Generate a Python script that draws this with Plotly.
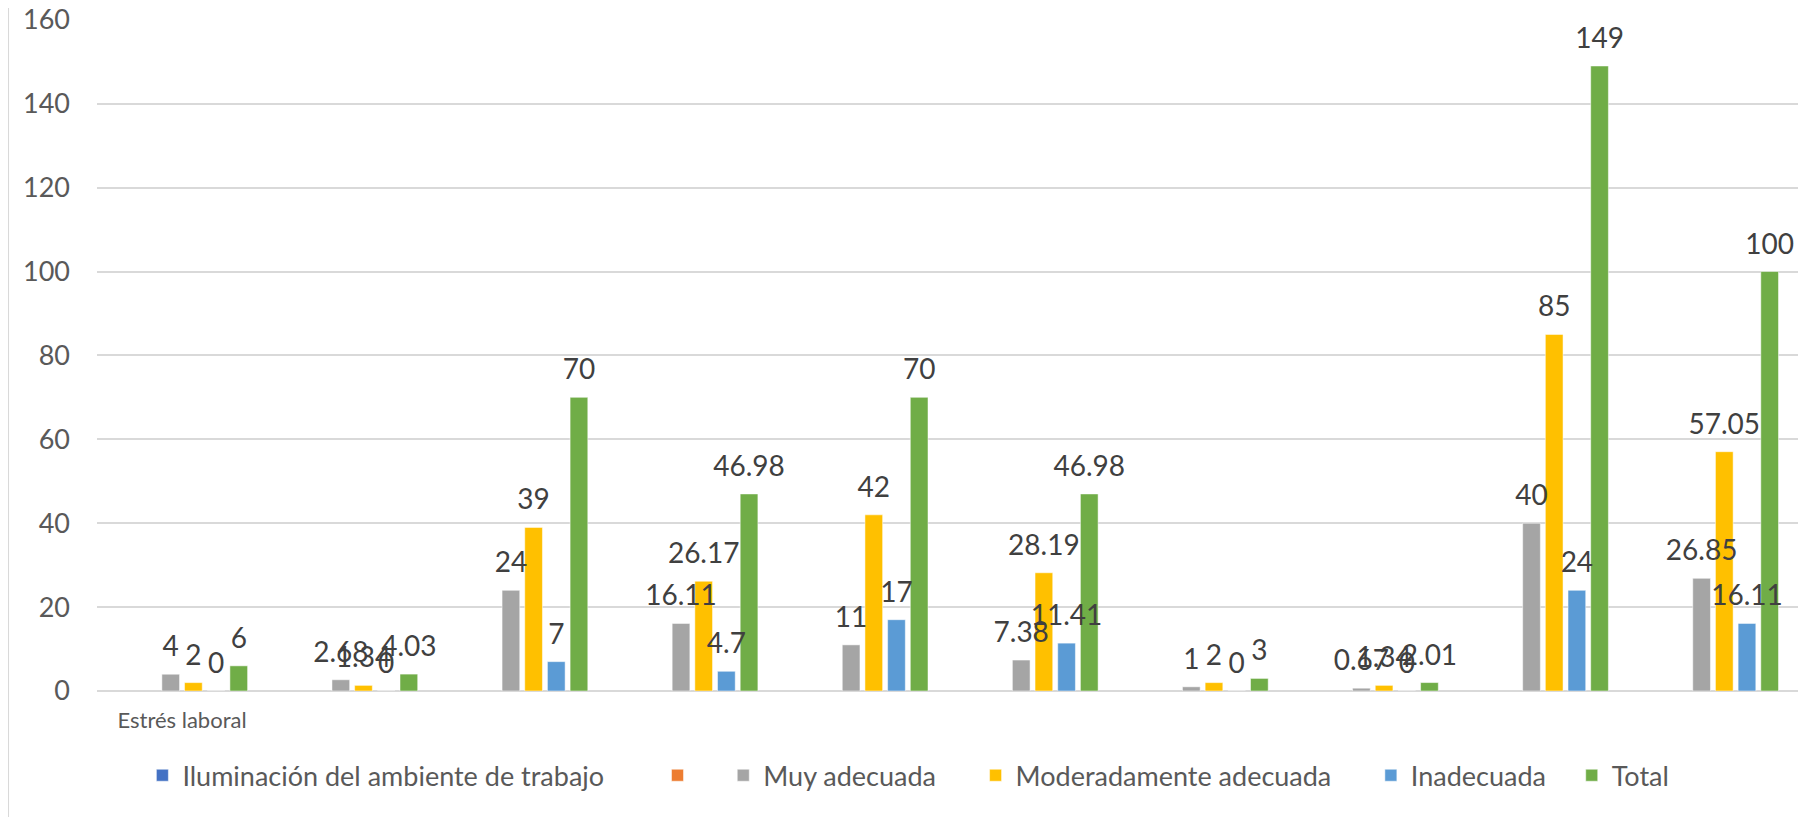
import plotly.graph_objects as go

# ---------------------------------------------------------------------------
# Data
# ---------------------------------------------------------------------------

categories = ["Estrés laboral", "", "", "", "", "", "", "", "", ""]

iluminacion = [None] * 10
sin_nombre = [None] * 10
muy_adecuada = [4, 2.68, 24, 16.11, 11, 7.38, 1, 0.67, 40, 26.85]
moderadamente = [2, 1.34, 39, 26.17, 42, 28.19, 2, 1.34, 85, 57.05]
inadecuada = [0, 0, 7, 4.7, 17, 11.41, 0, 0, 24, 16.11]
total = [6, 4.03, 70, 46.98, 70, 46.98, 3, 2.01, 149, 100]

series_names = ["Iluminación del ambiente de trabajo", "", "Muy adecuada",
                "Moderadamente adecuada", "Inadecuada", "Total"]
series_values = [iluminacion, sin_nombre, muy_adecuada, moderadamente, inadecuada, total]

# ---------------------------------------------------------------------------
# Styling
# ---------------------------------------------------------------------------

COLORS = ["#4472C4", "#ED7D31", "#A5A5A5", "#FFC000", "#5B9BD5", "#70AD47"]
# trailing non-breaking spaces widen the legend entries like the original
LEGEND_PAD = [7, 3, 5, 5, 3, 0]
FONT = "Lato, Calibri, sans-serif"
GRID = "#D9D9D9"

x_idx = list(range(len(categories)))

fig = go.Figure()
for i, (name, vals) in enumerate(zip(series_names, series_values)):
    fig.add_trace(go.Bar(
        x=x_idx, y=vals,
        name=name + "\u00a0" * LEGEND_PAD[i],
        marker=dict(color=COLORS[i], line=dict(color="white", width=0.5)),
        offsetgroup=str(i),
    ))

# value labels drawn in the scatter layer so they sit on top of every bar
for i, vals in enumerate(series_values):
    fig.add_trace(go.Scatter(
        x=x_idx, y=vals,
        mode="markers+text",
        marker=dict(size=16, color="rgba(0,0,0,0)"),
        text=[("" if v is None else f"{v:g}") for v in vals],
        textposition="top center",
        textfont=dict(family=FONT, size=28, color="#404040"),
        offsetgroup=str(i),
        showlegend=False,
        hoverinfo="skip",
        cliponaxis=False,
    ))

fig.update_layout(
    width=1810, height=809,
    margin=dict(l=89, r=20, t=11, b=126, autoexpand=False),
    paper_bgcolor="white",
    plot_bgcolor="white",
    font=dict(family=FONT, size=24, color="#595959"),
    barmode="group",
    bargap=0.2,
    bargroupgap=0.22,
    scattermode="group",
    scattergap=0.2,
    showlegend=True,
    legend=dict(
        orientation="h", x=0.477, xanchor="center", y=-0.126, yanchor="middle",
        font=dict(family=FONT, size=27, color="#595959"),
        itemwidth=30,
    ),
    shapes=[dict(
        type="line", xref="paper", yref="paper",
        x0=-0.0523, x1=-0.0523, y0=-0.2, y1=1.03,
        line=dict(color=GRID, width=2),
    )],
)

fig.update_xaxes(
    tickvals=x_idx, ticktext=categories,
    range=[-0.5, len(categories) - 0.5],
    showgrid=False, showline=False, zeroline=False,
    tickfont=dict(family=FONT, size=22, color="#595959"),
    ticklabelstandoff=14,
    automargin=False,
)
fig.update_yaxes(
    range=[0, 160.2], tickvals=[0, 20, 40, 60, 80, 100, 120, 140, 160],
    showgrid=True, gridcolor=GRID, gridwidth=2,
    zeroline=True, zerolinecolor=GRID, zerolinewidth=2,
    showline=False,
    tickfont=dict(family=FONT, size=27, color="#595959"),
    ticklabelstandoff=26,
    ticklabeloverflow="allow",
    automargin=False,
)

fig.write_html("out.html")
